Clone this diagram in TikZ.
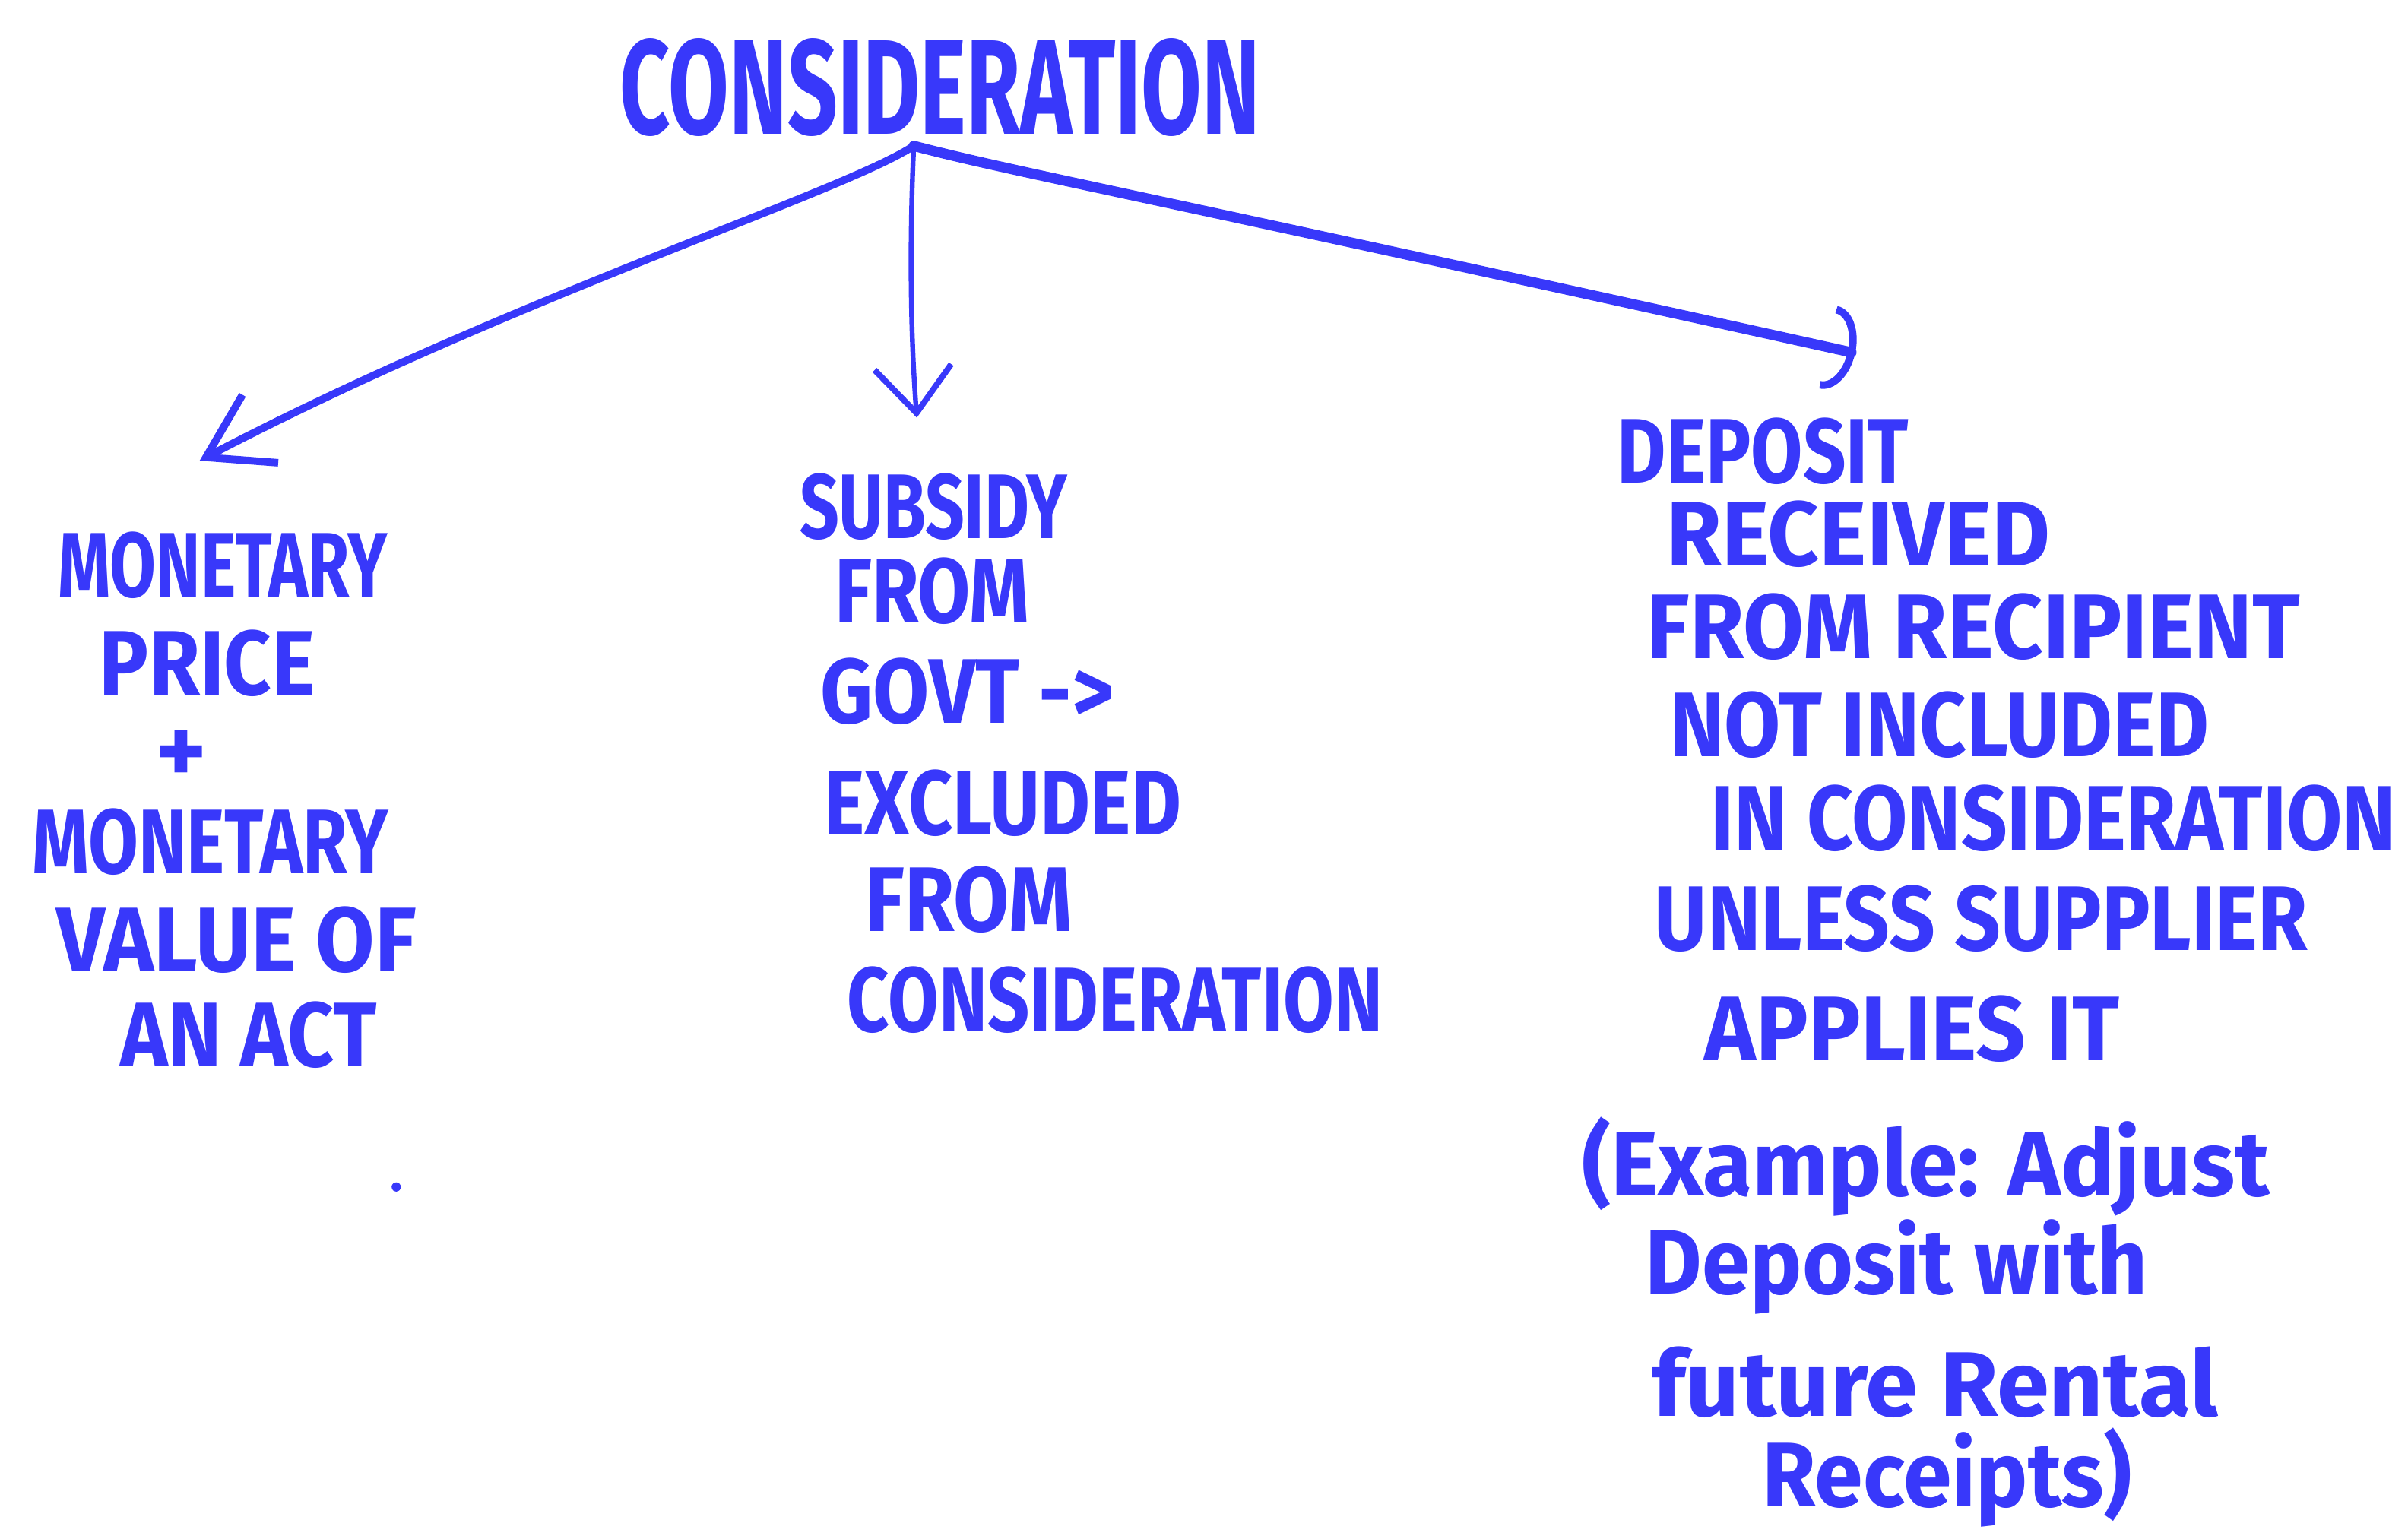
\documentclass[tikz,border=0pt]{standalone}
\usepackage{fontspec}
\setmainfont{Fira Sans}
\usetikzlibrary{arrows.meta}
\definecolor{ink}{RGB}{56,56,250}
% horizontally condensed lettering
\newcommand\hw[2][0.72]{\scalebox{#1}[1]{#2}}
\begin{document}
\begin{tikzpicture}[x=1cm,y=1cm,
  every node/.style={text=ink,inner sep=0pt},
  capstext/.style={font=\fontsize{17}{20}\selectfont\bfseries},
  bigtext/.style={font=\fontsize{25}{28}\selectfont\bfseries},
  mixedtext/.style={font=\fontsize{17}{20}\selectfont\bfseries},
  link/.style={draw=ink, line cap=round, line join=round}]
\useasboundingbox (0,0) rectangle (15.68,-10.02);

% heading
\node[bigtext] (title) at (6.12,-0.57) {\hw[0.65]{CONSIDERATION}};
\coordinate (hub) at (5.95,-0.95);

% left branch
\node[capstext] (l1) at (1.45,-3.68) {\hw[0.73]{MONETARY}};
\node[capstext] (l2) at (1.35,-4.32) {\hw[0.9]{PRICE}};
\node[capstext, font=\fontsize{18}{20}\selectfont\bfseries] (l3) at (1.18,-4.93) {+};
\node[capstext] (l4) at (1.37,-5.48) {\hw[0.79]{MONETARY}};
\node[capstext] (l5) at (1.54,-6.12) {\hw[0.93]{VALUE OF}};
\node[capstext] (l6) at (1.62,-6.74) {\hw[0.88]{AN ACT}};
\fill[ink] (2.58,-7.73) circle (0.03);

% middle branch
\node[capstext] (m1) at (6.08,-3.30) {\hw[0.75]{SUBSIDY}};
\node[capstext] (m2) at (6.07,-3.85) {\hw[0.83]{FROM}};
\node[capstext] (m3) at (6.30,-4.50) {\hw[0.89]{GOVT ->}};
\node[capstext] (m4) at (6.53,-5.23) {\hw[0.84]{EXCLUDED}};
\node[capstext] (m5) at (6.31,-5.86) {\hw[0.88]{FROM}};
\node[capstext] (m6) at (7.26,-6.51) {\hw[0.80]{CONSIDERATION}};

% right branch
\node[capstext] (r1) at (11.48,-2.94) {\hw[0.82]{DEPOSIT}};
\node[capstext] (r2) at (12.10,-3.48) {\hw[0.98]{RECEIVED}};
\node[capstext] (r3) at (12.85,-4.08) {\hw[0.96]{FROM RECIPIENT}};
\node[capstext] (r4) at (12.63,-4.72) {\hw[0.89]{NOT INCLUDED}};
\node[capstext] (r5) at (13.37,-5.33) {\hw[0.88]{IN CONSIDERATION}};
\node[capstext] (r6) at (12.90,-5.98) {\hw[0.88]{UNLESS SUPPLIER}};
\node[capstext] (r7) at (12.45,-6.70) {\hw[0.95]{APPLIES IT}};
\node[mixedtext] (r8) at (12.54,-7.60) {\hw[0.98]{(Example: Adjust}};
\node[mixedtext] (r9) at (12.35,-8.25) {\hw[0.95]{Deposit with}};
\node[mixedtext] (r10) at (12.60,-9.00) {\hw[1.03]{future Rental}};
\node[mixedtext] (r11) at (12.68,-9.62) {\hw[0.95]{Receipts)}};

% arrow tips
\coordinate (tipL) at (1.30,-3.00);
\coordinate (tipM) at (5.97,-2.72);
\coordinate (tipR) at (12.08,-2.30);

\draw[link, line width=1.4pt, -{Straight Barb[length=4mm,width=5mm,line width=1.4pt]}]
  (hub) .. controls (5.5,-1.25) and (3.3,-1.95) .. (tipL);
\draw[link, line width=0.9pt, -{Straight Barb[length=3mm,width=5mm,line width=1.1pt]}]
  (hub) .. controls (5.92,-1.6) and (5.93,-2.2) .. (tipM);
\draw[link, line width=1.9pt, -{Arc Barb[length=1.8mm,width=5.5mm,line width=1.4pt]}]
  (hub) .. controls (6.6,-1.12) and (7.2,-1.22) .. (tipR);
\end{tikzpicture}
\end{document}
